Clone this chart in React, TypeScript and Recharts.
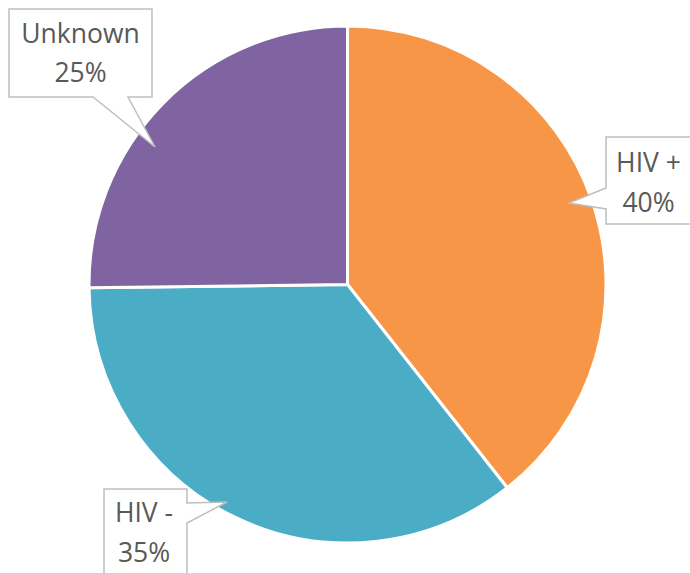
import React from "react";
import { PieChart, Pie, Cell } from "recharts";

const categories = ["HIV +", "HIV -", "Unknown"];
const values = [39.4, 35.4, 25.2];
const percentLabels = ["40%", "35%", "25%"];
const colors = ["#F79646", "#4BACC6", "#8064A2"];

const data = categories.map((name, i) => ({ name, value: values[i], pct: percentLabels[i] }));

// Callout layout, relative to pie centre: box [x0, y0, x1, y1], pointer base, tip, text centre x, baselines
type Callout = {
  box: [number, number, number, number];
  side: "bottom" | "left" | "right";
  base: [number, number];
  tip: [number, number];
  tx: number;
  b1: number;
  b2: number;
};
const callouts: Callout[] = [
  { box: [258.5, -147.5, 345, -60.5], side: "left", base: [-96.5, -75.5], tip: [221.5, -81.5], tx: 301, b1: -112.5, b2: -72.5 },
  { box: [-243.5, 204.5, -160.5, 300], side: "right", base: [218.5, 238.5], tip: [-120.5, 217.5], tx: -203.5, b1: 237.5, b2: 277.5 },
  { box: [-338.5, -275.5, -195.5, -187.5], side: "bottom", base: [-254.5, -219.5], tip: [-192.5, -137.5], tx: -267, b1: -241.5, b2: -202.5 },
];

const renderLabel = (props: any) => {
  const { cx, cy, index, name, payload } = props;
  const c = callouts[index];
  const [x0, y0, x1, y1] = c.box.map((v, k) => v + (k % 2 === 0 ? cx : cy));
  const tip = [c.tip[0] + cx, c.tip[1] + cy];
  let d = "";
  if (c.side === "bottom") {
    const a = c.base[0] + cx, b = c.base[1] + cx;
    d = `M${x0},${y0} L${x1},${y0} L${x1},${y1} L${b},${y1} L${tip[0]},${tip[1]} L${a},${y1} L${x0},${y1} Z`;
  } else if (c.side === "left") {
    const a = c.base[0] + cy, b = c.base[1] + cy;
    d = `M${x0},${y0} L${x1},${y0} L${x1},${y1} L${x0},${y1} L${x0},${b} L${tip[0]},${tip[1]} L${x0},${a} Z`;
  } else {
    const a = c.base[0] + cy, b = c.base[1] + cy;
    d = `M${x0},${y0} L${x1},${y0} L${x1},${a} L${tip[0]},${tip[1]} L${x1},${b} L${x1},${y1} L${x0},${y1} Z`;
  }
  const pct = payload && payload.pct ? payload.pct : percentLabels[index];
  return (
    <g key={`callout-${index}`}>
      <path d={d} fill="#ffffff" stroke="#BFBFBF" strokeWidth={1.5} />
      <text x={c.tx + cx} y={c.b1 + cy} textAnchor="middle" fill="#595959" fontSize={26.5} fontFamily="'Open Sans', sans-serif">
        {name}
      </text>
      <text x={c.tx + cx} y={c.b2 + cy} textAnchor="middle" fill="#595959" fontSize={26.5} fontFamily="'Open Sans', sans-serif">
        {pct}
      </text>
    </g>
  );
};

export default function App() {
  return (
    <div style={{ position: "absolute", left: 0, top: 0, width: 690, height: 573, background: "#ffffff", overflow: "hidden" }}>
      <PieChart width={690} height={573} margin={{ top: 0, right: 0, bottom: 0, left: 0 }}>
        <Pie
          data={data}
          dataKey="value"
          nameKey="name"
          cx={347.5}
          cy={284.5}
          outerRadius={258.5}
          startAngle={90}
          endAngle={-270}
          stroke="#ffffff"
          strokeWidth={3}
          label={renderLabel}
          labelLine={false}
          isAnimationActive={false}
        >
          {data.map((d, i) => (
            <Cell key={d.name} fill={colors[i]} />
          ))}
        </Pie>
      </PieChart>
    </div>
  );
}
